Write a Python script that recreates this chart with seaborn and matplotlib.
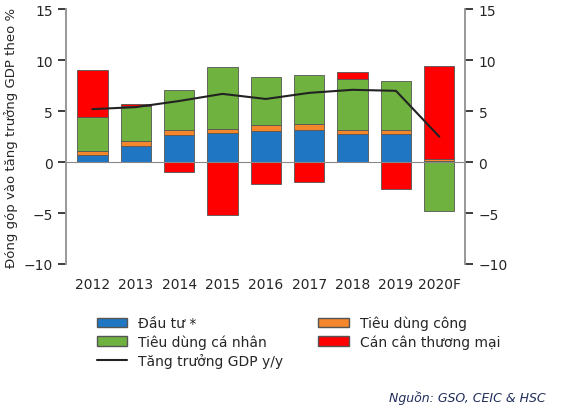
import matplotlib
matplotlib.use("Agg")
import matplotlib.pyplot as plt
import seaborn as sns
import numpy as np
from matplotlib.lines import Line2D
from matplotlib.patches import Patch

sns.set_theme(style="white")
plt.rcParams['font.family'] = ['DejaVu Sans']

years = ["2012", "2013", "2014", "2015", "2016", "2017", "2018", "2019", "2020F"]
dau_tu = [0.7, 1.6, 2.7, 2.9, 3.1, 3.2, 2.8, 2.8, 0.1]
tieu_dung_cong = [0.4, 0.5, 0.5, 0.4, 0.5, 0.5, 0.4, 0.4, 0.2]
tieu_dung_ca_nhan = [3.3, 3.4, 3.9, 6.0, 4.8, 4.9, 5.0, 4.8, -4.8]
can_can = [4.6, 0.2, -1.0, -5.2, -2.1, -2.0, 0.6, -2.6, 9.1]
gdp = [5.2, 5.4, 6.0, 6.7, 6.2, 6.8, 7.1, 7.0, 2.5]

colors = ["#1f77c4", "#f4862b", "#6fb23f", "#ff0000"]
series = [dau_tu, tieu_dung_cong, tieu_dung_ca_nhan, can_can]
names = ["Đầu tư *", "Tiêu dùng công", "Tiêu dùng cá nhân", "Cán cân thương mại"]

fig = plt.figure(figsize=(5.62, 4.14), dpi=100)
ax = fig.add_axes([0.118, 0.36, 0.71, 0.615])
x = np.arange(len(years))
pos = np.zeros(len(years)); neg = np.zeros(len(years))
for vals, c in zip(series, colors):
    v = np.array(vals)
    bottoms = np.where(v >= 0, pos, neg)
    ax.bar(x, v, bottom=bottoms, width=0.7, color=c, edgecolor="#555555", linewidth=0.6)
    pos = pos + np.where(v >= 0, v, 0)
    neg = neg + np.where(v < 0, v, 0)
sns.lineplot(x=x, y=gdp, ax=ax, color="#222222", linewidth=1.5)
ax.axhline(0, color="#888888", linewidth=0.8)
ax.set_ylim(-10, 15)
ax.set_xlim(-0.6, len(years) - 0.4)
ax.set_yticks(range(-10, 16, 5))
ax.set_xticks(x)
ax.set_xticklabels(years, fontsize=10)
ax.tick_params(axis='y', labelsize=10)
ax.set_ylabel("Đóng góp vào tăng trưởng GDP theo %", fontsize=9.5)
ax2 = ax.twinx()
ax2.set_ylim(-10, 15)
ax2.set_yticks(range(-10, 16, 5))
ax2.tick_params(axis='y', labelsize=10)
for a in (ax, ax2):
    a.spines['top'].set_visible(False)
    a.spines['bottom'].set_visible(False)
    for s in ('left', 'right'):
        a.spines[s].set_color("#999999")

p = [Patch(facecolor=c, edgecolor="#555555", label=n) for c, n in zip(colors, names)]
l = Line2D([0], [0], color="#222222", lw=1.5, label="Tăng trưởng GDP y/y")
handles = [p[0], p[2], l, p[1], p[3]]
fig.legend(handles=handles, loc="upper left", bbox_to_anchor=(0.15, 0.265), ncol=2,
           frameon=False, fontsize=10, handlelength=2.2, columnspacing=2.5,
           labelspacing=0.3)
fig.text(0.97, 0.03, "Nguồn: GSO, CEIC & HSC", ha="right", fontsize=9,
         style="italic", color="#1f2d5a")
fig.savefig("out.png", dpi=100)
